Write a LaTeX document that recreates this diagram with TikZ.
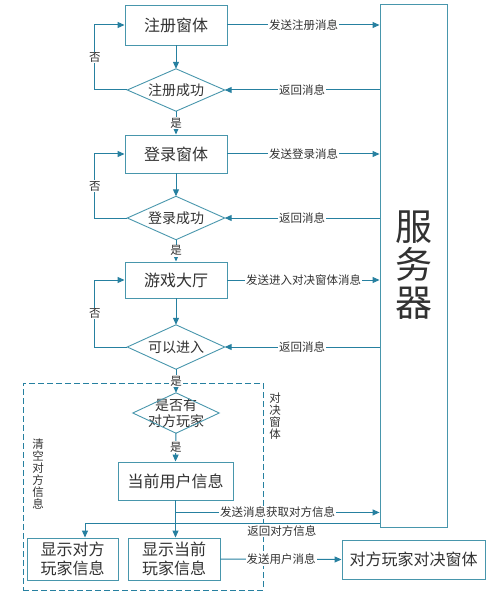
\documentclass[tikz,border=0pt]{standalone}
\usepackage{fontspec}
\setmainfont{Noto Sans CJK SC}
\usetikzlibrary{arrows.meta,calc}
\definecolor{ln}{RGB}{38,128,160}
\definecolor{bx}{RGB}{72,150,172}
\definecolor{tx}{RGB}{50,50,50}
\begin{document}
\begin{tikzpicture}[x=1pt,y=-1pt,
  box/.style={draw=bx, line width=0.9pt, fill=white, text=tx, inner sep=0pt,
    align=center, font=\fontsize{16}{19}\selectfont},
  dtext/.style={text=tx, inner sep=0pt, align=center, font=\fontsize{14}{16}\selectfont},
  dia/.style={draw=bx, line width=0.9pt},
  lbl/.style={fill=white, text=tx, inner sep=1pt, font=\fontsize{11.5}{13}\selectfont},
  vlbl/.style={text=tx, inner sep=0pt, align=center, font=\fontsize{11.5}{12}\selectfont},
  conn/.style={draw=ln, line width=1pt, -{Triangle[length=7pt,width=6pt]}},
  plain/.style={draw=ln, line width=1pt},
  dbox/.style={draw=ln, line width=0.9pt, dash pattern=on 6pt off 3pt}]
\useasboundingbox (0,0) rectangle (489,596);

% dashed battle window frame
\node[dbox, minimum width=240, minimum height=207, inner sep=0pt] (win) at (143,486.5) {};

% server
\node[box, minimum width=67, minimum height=523, font=\fontsize{37}{38}\selectfont] (srv) at (413.5,265.5) {服\\务\\器};

% boxes
\node[box, minimum width=102, minimum height=40] (reg) at (176,25) {注册窗体};
\node[box, minimum width=102, minimum height=38] (log) at (176,154) {登录窗体};
\node[box, minimum width=102, minimum height=36] (hall) at (176,280) {游戏大厅};
\node[box, minimum width=115, minimum height=38] (cur) at (175.5,481) {当前用户信息};
\node[box, minimum width=91, minimum height=42] (opp) at (72.5,559) {显示对方\\玩家信息};
\node[box, minimum width=92, minimum height=42] (me) at (174,559) {显示当前\\玩家信息};
\node[box, minimum width=143, minimum height=39] (duel) at (413.5,559.5) {对方玩家对决窗体};

% decisions
\node[dtext, minimum width=97, minimum height=42] (d1) at (176,90) {注册成功};
\node[dtext, minimum width=97, minimum height=43] (d2) at (176,218) {登录成功};
\node[dtext, minimum width=97, minimum height=44] (d3) at (176,347) {可以进入};
\node[dtext, minimum width=86, minimum height=40] (d4) at (176,413) {是否有\\对方玩家};
\foreach \d in {d1,d2,d3,d4}
  \draw[dia] (\d.north) -- (\d.east) -- (\d.south) -- (\d.west) -- cycle;

% vertical labels
\node[vlbl] (clr) at (38,474) {清\\空\\对\\方\\信\\息};
\node[vlbl] (dj) at (275,416) {对\\决\\窗\\体};

% register
\draw[conn] (reg.east) -- (reg.east -| srv.west) node[lbl, midway] {发送注册消息};
\draw[conn] (d1.east -| srv.west) -- (d1.east) node[lbl, midway] {返回消息};
\draw[conn] (reg.south) -- (d1.north);
\draw[conn] (d1.west) -- ([xshift=-32.5pt]d1.west) |- (reg.west) node[lbl, pos=0.25] {否};
\draw[conn] (d1.south) -- (log.north) node[lbl, midway] {是};

% login
\draw[conn] (log.east) -- (log.east -| srv.west) node[lbl, midway] {发送登录消息};
\draw[conn] (d2.east -| srv.west) -- (d2.east) node[lbl, midway] {返回消息};
\draw[conn] (log.south) -- (d2.north);
\draw[conn] (d2.west) -- ([xshift=-32.5pt]d2.west) |- (log.west) node[lbl, pos=0.25] {否};
\draw[conn] (d2.south) -- (hall.north) node[lbl, midway] {是};

% hall
\draw[conn] (hall.east) -- (hall.east -| srv.west) node[lbl, midway] {发送进入对决窗体消息};
\draw[conn] (d3.east -| srv.west) -- (d3.east) node[lbl, midway] {返回消息};
\draw[conn] (hall.south) -- (d3.north);
\draw[conn] (d3.west) -- ([xshift=-32.5pt]d3.west) |- (hall.west) node[lbl, pos=0.25] {否};
\draw[conn] (d3.south) -- (d4.north) node[lbl, midway] {是};

% battle window
\draw[conn] (d4.south) -- (cur.north) node[lbl, midway] {是};
\draw[conn] (cur.south) -- (cur.south |- me.north);
\coordinate (br1) at ($(cur.south)+(0,12)$);
\draw[conn] (br1) -- (br1 -| srv.west) node[lbl, midway] {发送消息获取对方信息};
\coordinate (opin) at ([xshift=12.5pt]opp.north);
\coordinate (r1) at (srv.west |- 0,523);
\draw[conn] (r1) -| (opin) node[lbl, below=1pt, pos=0.166] {返回对方信息};
\draw[conn] (me.east) -- (duel.west) node[lbl, midway] {发送用户消息};
\end{tikzpicture}
\end{document}
